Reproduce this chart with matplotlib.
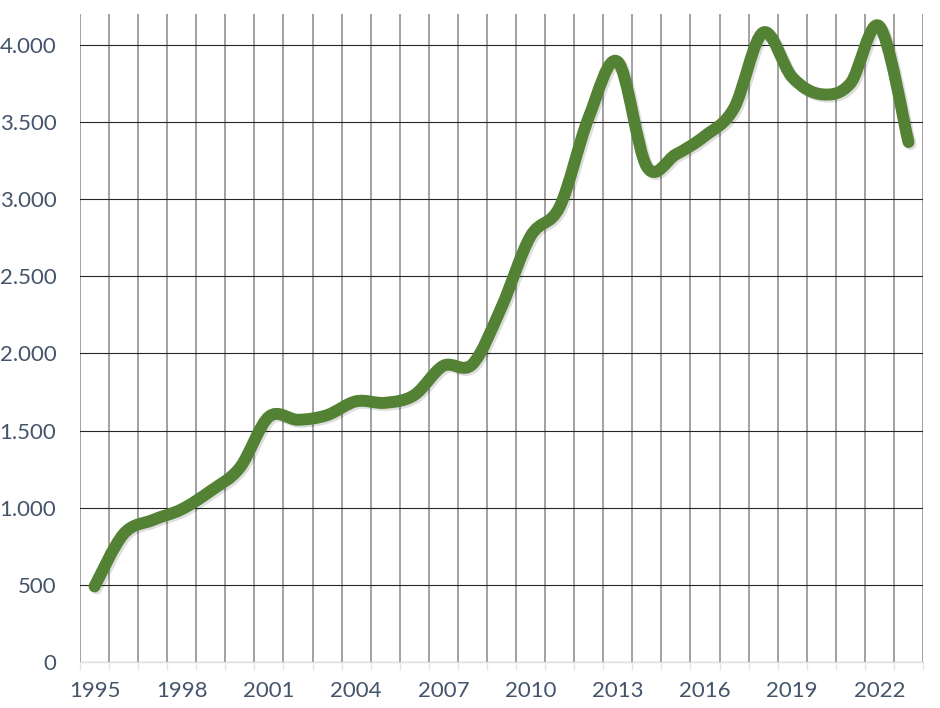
import matplotlib.pyplot as plt
import matplotlib.patheffects as pe
from matplotlib.path import Path
from matplotlib.patches import PathPatch
import matplotlib.ticker as ticker
import numpy as np

plt.rcParams['font.family'] = ['Lato', 'DejaVu Sans']

years = list(range(1995, 2024))
values = [490, 830, 920, 990, 1110, 1260, 1590, 1570, 1600, 1690,
          1680, 1730, 1920, 1930, 2300, 2760, 2950, 3530, 3890, 3210,
          3290, 3410, 3590, 4080, 3790, 3680, 3750, 4120, 3370]
year_labels = [str(y) if (y - 1995) % 3 == 0 else '' for y in years]

line_color = '#548235'
text_color = '#44546A'

fig = plt.figure(figsize=(9.4, 7.08), dpi=100)
ax = fig.add_axes([80 / 940, 46 / 708, 843 / 940, 648 / 708])

x = np.arange(len(years))
y = np.array(values, dtype=float)

# smoothed line like excel: cubic bezier segments through the points
verts = [(x[0], y[0])]
codes = [Path.MOVETO]
n = len(x)
for i in range(n - 1):
    p0 = np.array([x[max(i - 1, 0)], y[max(i - 1, 0)]])
    p1 = np.array([x[i], y[i]])
    p2 = np.array([x[i + 1], y[i + 1]])
    p3 = np.array([x[min(i + 2, n - 1)], y[min(i + 2, n - 1)]])
    c1 = p1 + (p2 - p0) / 6
    c2 = p2 - (p3 - p1) / 6
    verts += [tuple(c1), tuple(c2), tuple(p2)]
    codes += [Path.CURVE4] * 3
patch = PathPatch(Path(verts, codes), facecolor='none', edgecolor=line_color,
                  lw=8.6, capstyle='round', joinstyle='round', zorder=3)
patch.set_path_effects([pe.SimpleLineShadow(offset=(1.5, -1.5), shadow_color='#000000',
                                            alpha=0.13, rho=1.0),
                        pe.Normal()])
ax.add_patch(patch)

ax.set_xlim(-0.5, len(years) - 0.5)
ax.set_ylim(0, 4200)

ax.set_xticks(x)
ax.set_xticklabels(year_labels)
ax.xaxis.set_minor_locator(ticker.FixedLocator(np.arange(-0.5, len(years), 1.0)))
ax.set_yticks(np.arange(0, 4001, 500))
ax.yaxis.set_major_formatter(ticker.FuncFormatter(lambda v, p: f'{int(v):,}'.replace(',', '.')))

ax.grid(axis='y', which='major', color='#262626', lw=0.8)
ax.grid(axis='x', which='minor', color='#9a9a9a', lw=1.3)
ax.grid(axis='x', which='major', visible=False)
ax.set_axisbelow(True)

ax.tick_params(axis='x', which='major', length=0, pad=14, labelsize=16, labelcolor=text_color)
ax.tick_params(axis='x', which='minor', length=6, color='#e6e6e6', width=1)
ax.tick_params(axis='y', length=0, pad=17, labelsize=16, labelcolor=text_color)

for s in ['top', 'right', 'left']:
    ax.spines[s].set_visible(False)
ax.spines['bottom'].set_color('#e0e0e0')
ax.spines['bottom'].set_linewidth(1)

fig.savefig('out.png', dpi=100)
